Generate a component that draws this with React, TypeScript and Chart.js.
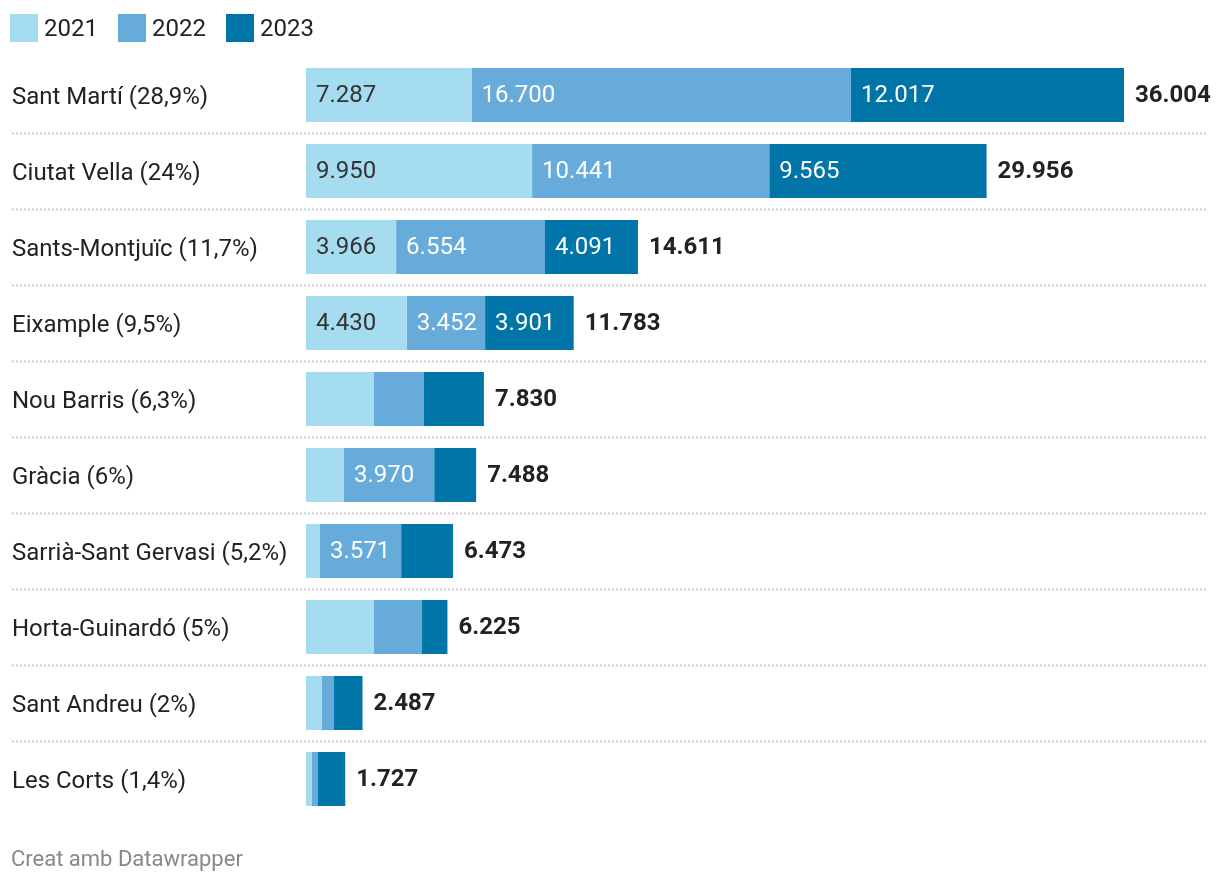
import React, { useEffect, useRef } from "react";
import { Chart, registerables } from "chart.js";

Chart.register(...registerables);

const categories = [
  "Sant Martí (28,9%)",
  "Ciutat Vella (24%)",
  "Sants-Montjuïc (11,7%)",
  "Eixample (9,5%)",
  "Nou Barris (6,3%)",
  "Gràcia (6%)",
  "Sarrià-Sant Gervasi (5,2%)",
  "Horta-Guinardó (5%)",
  "Sant Andreu (2%)",
  "Les Corts (1,4%)",
];

const values2021 = [7287, 9950, 3966, 4430, 2993, 1673, 616, 2993, 704, 264];
const values2022 = [16700, 10441, 6554, 3452, 2201, 3970, 3571, 2113, 528, 264];
const values2023 = [12017, 9565, 4091, 3901, 2636, 1845, 2286, 1119, 1255, 1199];
const totals = [36004, 29956, 14611, 11783, 7830, 7488, 6473, 6225, 2487, 1727];

const seriesNames = ["2021", "2022", "2023"];
const seriesColors = ["#a6dcef", "#67abdb", "#0174a8"];
const labelColors = ["#333333", "#ffffff", "#ffffff"];

const FONT = "Roboto, 'Noto Sans', sans-serif";

function fmt(v: number): string {
  return String(v).replace(/\B(?=(\d{3})+(?!\d))/g, ".");
}

const labelsPlugin = {
  id: "dwLabels",
  beforeDatasetsDraw(chart: any) {
    const ctx = chart.ctx;
    const meta0 = chart.getDatasetMeta(0);
    ctx.save();
    ctx.strokeStyle = "#cccccc";
    ctx.lineWidth = 2;
    ctx.setLineDash([2, 2]);
    for (let i = 0; i < meta0.data.length - 1; i++) {
      const y = Math.round((meta0.data[i].y + meta0.data[i + 1].y) / 2) + 0.5;
      ctx.beginPath();
      ctx.moveTo(12, y);
      ctx.lineTo(1208, y);
      ctx.stroke();
    }
    ctx.restore();
  },
  afterDatasetsDraw(chart: any) {
    const ctx = chart.ctx;
    ctx.save();
    ctx.textBaseline = "middle";
    ctx.textAlign = "left";
    // category labels (y axis)
    const yScale = chart.scales.y;
    ctx.font = `400 24px ${FONT}`;
    ctx.fillStyle = "#222222";
    chart.data.labels.forEach((lab: string, i: number) => {
      ctx.fillText(lab, 12, yScale.getPixelForValue(i) + 3);
    });
    chart.data.datasets.forEach((ds: any, di: number) => {
      const meta = chart.getDatasetMeta(di);
      meta.data.forEach((el: any, i: number) => {
        const v = ds.data[i];
        const text = fmt(v);
        ctx.font = `400 24px ${FONT}`;
        const w = ctx.measureText(text).width;
        const left = Math.min(el.base, el.x);
        const segW = Math.abs(el.x - el.base);
        if (w + 12 <= segW) {
          ctx.fillStyle = labelColors[di];
          ctx.fillText(text, left + 10, el.y + 1);
        }
      });
    });
    const last = chart.getDatasetMeta(chart.data.datasets.length - 1);
    last.data.forEach((el: any, i: number) => {
      ctx.font = `700 24px ${FONT}`;
      ctx.fillStyle = "#222222";
      ctx.fillText(fmt(totals[i]), el.x + 11, el.y + 1);
    });
    ctx.restore();
  },
};

export default function App() {
  const canvasRef = useRef<HTMLCanvasElement | null>(null);

  useEffect(() => {
    if (!canvasRef.current) return;
    const chart = new Chart(canvasRef.current, {
      type: "bar",
      data: {
        labels: categories,
        datasets: [values2021, values2022, values2023].map((d, i) => ({
          label: seriesNames[i],
          data: d,
          backgroundColor: seriesColors[i],
          borderWidth: 0,
          categoryPercentage: 1,
          barPercentage: 54 / 76,
        })),
      },
      options: {
        indexAxis: "y",
        animation: false,
        responsive: false,
        maintainAspectRatio: false,
        layout: { padding: { left: 12, right: 5.2, top: 57, bottom: 67 } },
        plugins: { legend: { display: false }, tooltip: { enabled: false } },
        scales: {
          x: { stacked: true, min: 0, max: 40000, display: false },
          y: {
            stacked: true,
            grid: { display: false },
            border: { display: false },
            afterFit: (scale: any) => {
              scale.width = 294;
            },
            ticks: { display: false },
          },
        },
      },
      plugins: [labelsPlugin],
    } as any);
    return () => chart.destroy();
  }, []);

  const legendX = [10, 118, 226];

  return (
    <div
      style={{
        position: "fixed",
        left: 0,
        top: 0,
        width: 1220,
        height: 884,
        background: "#ffffff",
        overflow: "hidden",
        fontFamily: FONT,
      }}
    >
      <canvas ref={canvasRef} width={1220} height={884} style={{ position: "absolute", left: 0, top: 0 }} />
      {seriesNames.map((name, i) => (
        <div
          key={name}
          style={{ position: "absolute", left: legendX[i], top: 14, height: 28, display: "flex", alignItems: "center" }}
        >
          <div style={{ width: 28, height: 28, background: seriesColors[i] }} />
          <span style={{ marginLeft: 6, fontSize: 24, color: "#222222", lineHeight: "28px" }}>{name}</span>
        </div>
      ))}
      <div
        style={{
          position: "absolute",
          left: 11,
          top: 846,
          fontSize: 22,
          lineHeight: "26px",
          color: "#888888",
        }}
      >
        Creat amb Datawrapper
      </div>
    </div>
  );
}
